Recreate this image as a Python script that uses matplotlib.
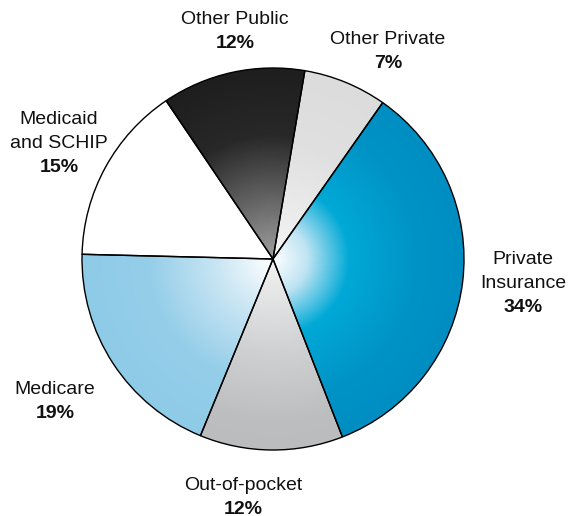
import matplotlib.pyplot as plt
import numpy as np
from matplotlib.colors import LinearSegmentedColormap

plt.rcParams['font.family'] = ['Liberation Sans', 'DejaVu Sans']

# Data
labels = ["Other Public", "Medicaid\nand SCHIP", "Medicare", "Out-of-pocket",
          "Private\nInsurance", "Other Private"]
shares = [12, 15, 19, 12, 34, 7]

# radial gradient stops per slice (position along radius, colour)
grads = [
    [(0.0, "#a0a0a0"), (0.35, "#5e5e5e"), (0.65, "#282828"), (1.0, "#1e1e1e")],
    [(0.0, "#ffffff"), (1.0, "#ffffff")],
    [(0.0, "#ffffff"), (0.3, "#c8e5f3"), (0.65, "#95cee9"), (1.0, "#8ecbe7")],
    [(0.0, "#f2f2f2"), (0.5, "#cfd0d2"), (0.85, "#bdbec0"), (1.0, "#bbbcbe")],
    [(0.0, "#ffffff"), (0.18, "#bfe4f3"), (0.4, "#00a9d6"), (0.75, "#0093c6"), (1.0, "#008ec2")],
    [(0.0, "#f4f4f4"), (0.6, "#e0e0e1"), (1.0, "#dcdcdd")],
]

cx, cy, R = 273, 257, 191

fig = plt.figure(figsize=(5.73, 5.16), dpi=100)
ax = fig.add_axes([0, 0, 1, 1])

wedges, _ = ax.pie(shares, startangle=80.4, counterclock=True, radius=R,
                   center=(cx, cy), frame=True,
                   wedgeprops=dict(facecolor='none', edgecolor='black', linewidth=1.0))
ax.set_xlim(0, 573)
ax.set_ylim(0, 516)
ax.set_aspect('equal')
ax.axis('off')

n = 500
xs = np.linspace(cx - R, cx + R, n)
ys = np.linspace(cy - R, cy + R, n)
X, Y = np.meshgrid(xs, ys)
rr = np.clip(np.hypot(X - cx, Y - cy) / R, 0, 1)

for w, g in zip(wedges, grads):
    cmap = LinearSegmentedColormap.from_list("g", g)
    im = ax.imshow(rr, cmap=cmap, vmin=0, vmax=1, origin='lower',
                   extent=(cx - R, cx + R, cy - R, cy + R), zorder=1,
                   interpolation='bilinear')
    im.set_clip_path(w)
    w.set_zorder(2)

# labels (block centres)
pos = [(235, 485), (59, 373), (55, 115), (243, 19), (523, 233), (388, 465)]
lh = 24
for lab, v, (px, py) in zip(labels, shares, pos):
    lines = lab.split("\n")
    total = len(lines) + 1
    top = py + total * lh / 2
    for i, line in enumerate(lines):
        ax.text(px, top - lh * (i + 0.5), line, ha='center', va='center',
                fontsize=14, color='#111111')
    ax.text(px, top - lh * (len(lines) + 0.5), f"{v}%", ha='center', va='center',
            fontsize=14, fontweight='bold', color='#111111')

fig.savefig("out.png", dpi=100)
